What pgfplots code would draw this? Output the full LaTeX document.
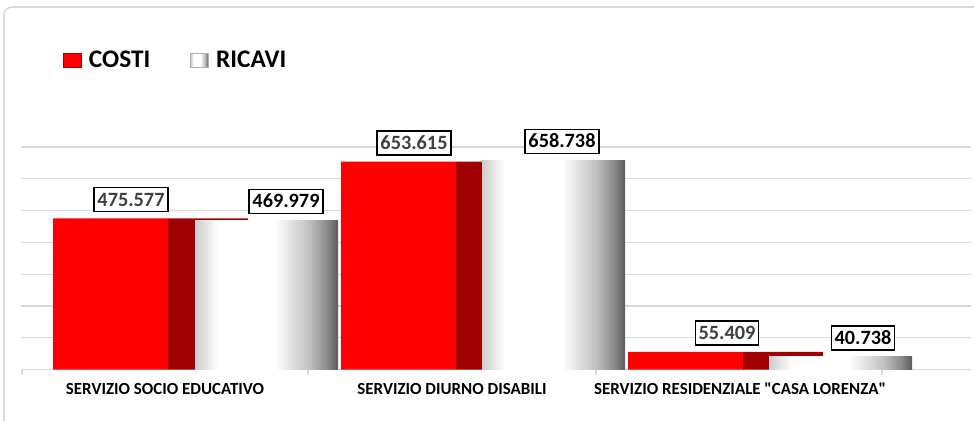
\documentclass[border=0pt]{standalone}
\usepackage{fontspec}
\setmainfont{Carlito}
\usepackage{pgfplots}
\pgfplotsset{compat=1.18}
\definecolor{brightred}{HTML}{FF0000}
\definecolor{darkred}{HTML}{A00000}
\definecolor{gridgray}{HTML}{D9D9D9}
\definecolor{labgray}{HTML}{404040}
\pgfdeclarehorizontalshading{cyl}{100bp}{color(0bp)=(white!80!black); color(25bp)=(white!80!black); color(33bp)=(white); color(53bp)=(white); color(65bp)=(white!75!black); color(71bp)=(white!55!black); color(75bp)=(white!36!black); color(100bp)=(white!36!black)}
\begin{document}
\begin{tikzpicture}
\begin{axis}[
  anchor=south west,
  scale only axis, width=712.5pt, height=166.875pt,
  xmin=21, xmax=971, ymin=0, ymax=700,
  clip=false,
  axis line style={draw=none},
  tick pos=left,
  ytick={0,100,...,700}, yticklabels={}, ymajorgrids,
  ytick style={draw=none},
  grid style={gridgray, line width=0.9pt},
  xtick={22,308,596,882}, xticklabels={},
  xtick style={gridgray, line width=0.8pt},
  tick align=outside, major tick length=3.75pt,
  extra x ticks={165,452,740},
  extra x tick labels={SERVIZIO SOCIO EDUCATIVO,SERVIZIO DIURNO DISABILI,SERVIZIO RESIDENZIALE \textquotedbl CASA LORENZA\textquotedbl},
  extra x tick style={major tick length=0pt, grid=none,
    tick label style={font=\bfseries\fontsize{12.7}{14}\selectfont, anchor=base, yshift=-19pt}},
  legend style={at={(0.0442,1.391)}, anchor=west, draw=none, fill=none, inner sep=0pt,
    font=\bfseries\fontsize{19}{21}\selectfont,
    /tikz/every even column/.append style={column sep=28pt}},
  legend columns=2,
]
% red front faces
\addplot[ybar, bar width=115, bar shift=0, fill=brightred, draw=none, forget plot]
  coordinates {(110.5,475.577) (398.5,653.615) (685.5,55.409)};
% red side faces
\addplot[ybar, bar width=80, bar shift=0, fill=darkred, draw=none, forget plot]
  coordinates {(208,475.577) (496,653.615) (783,55.409)};
% white cylinders (one plot per bar so each gets its own shading)
\addplot[ybar, bar width=143, bar shift=0, draw=none, shade, shading=cyl, forget plot]
  coordinates {(266.5,469.979)};
\addplot[ybar, bar width=143, bar shift=0, draw=none, shade, shading=cyl, forget plot]
  coordinates {(553.5,658.738)};
\addplot[ybar, bar width=143, bar shift=0, draw=none, shade, shading=cyl, forget plot]
  coordinates {(840.5,40.738)};
% value labels
\addplot[draw=none, no marks, forget plot, nodes near coords, point meta=explicit symbolic,
  nodes near coords style={anchor=south, yshift=4.5pt, draw=black, line width=1.1pt, fill=white,
    text=labgray, font=\bfseries\fontsize{15.2}{16}\selectfont, inner xsep=2.5pt, inner ysep=4.2pt,
    text height=9.6pt, text depth=0pt}]
  table[meta=lab] {
x y lab
131 475.577 475.577
414 653.615 653.615
727 55.409 55.409
};
\addplot[draw=none, no marks, forget plot, nodes near coords, point meta=explicit symbolic,
  nodes near coords style={anchor=south, yshift=4.5pt, draw=black, line width=1.1pt, fill=white,
    text=black, font=\bfseries\fontsize{15.2}{16}\selectfont, inner xsep=2.5pt, inner ysep=4.2pt,
    text height=9.6pt, text depth=0pt}]
  table[meta=lab] {
x y lab
286 469.979 469.979
562 658.738 658.738
863 40.738 40.738
};
\addlegendimage{legend image code/.code={\draw[fill=brightred, draw=darkred, line width=0.6pt] (0pt,-5.2pt) rectangle (13pt,5.2pt); \path[draw=none, fill=none] (0pt,0pt) rectangle (17pt,0.1pt);}}
\addlegendentry{COSTI}
\addlegendimage{legend image code/.code={\draw[shade, shading=cyl, draw=white!70!black, line width=0.6pt] (0pt,-5.2pt) rectangle (13pt,5.2pt); \path[draw=none, fill=none] (0pt,0pt) rectangle (17pt,0.1pt);}}
\addlegendentry{RICAVI}
\coordinate (bl) at (axis cs:0,-158.9);
\coordinate (tr) at (axis cs:974,1162.5);
\end{axis}
\pgfresetboundingbox
\path[use as bounding box] (bl) rectangle (tr);
\begin{scope}[shift={(bl)}, x=0.75pt, y=0.75pt]
\draw[gridgray, line width=1.2pt, rounded corners=6pt] (4,-20) -- (4,413) -- (990,413);
\end{scope}
\end{tikzpicture}
\end{document}
